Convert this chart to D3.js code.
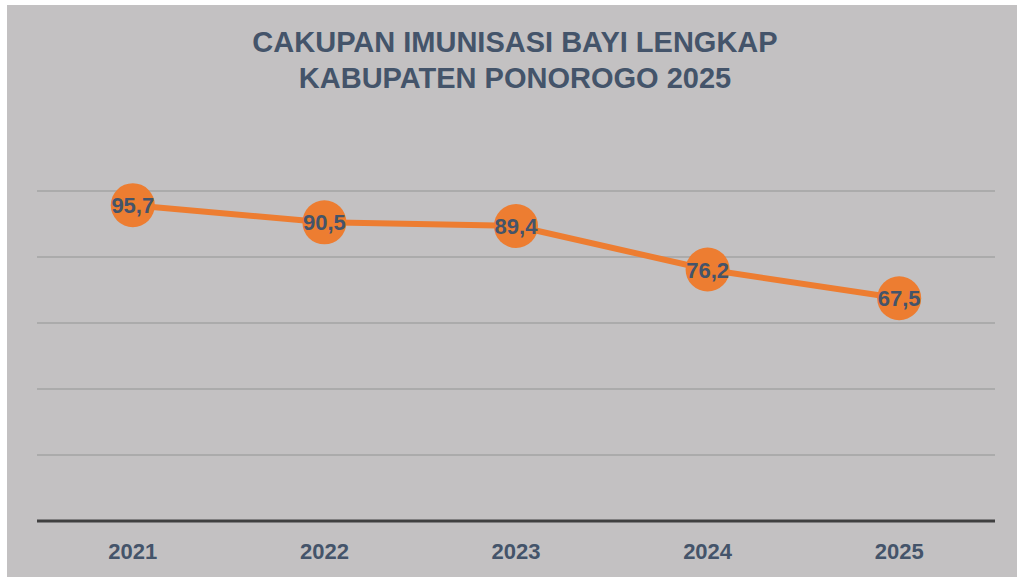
<!DOCTYPE html>
<html>
<head>
<meta charset="utf-8">
<script src="https://cdn.jsdelivr.net/npm/d3@7"></script>
<style>
  html, body { margin: 0; padding: 0; background: #ffffff; }
  svg { display: block; }
</style>
</head>
<body>
<svg id="chart"></svg>
<script>
const years = ['2021', '2022', '2023', '2024', '2025'];
const coverage = [95.7, 90.5, 89.4, 76.2, 67.5];
const coverageLabels = ['95,7', '90,5', '89,4', '76,2', '67,5'];
const gridTicks = [0, 20, 40, 60, 80, 100];
const titleLines = ['CAKUPAN IMUNISASI BAYI LENGKAP', 'KABUPATEN PONOROGO 2025'];

const width = 1017, height = 577;
const margin = { top: 125, right: 22, bottom: 56, left: 37 };
const textColour = '#44546a';
const orange = '#ed7d31';

const svg = d3.select('#chart').attr('width', width).attr('height', height);

// chart area background
svg.append('rect')
    .attr('x', 7).attr('y', 5)
    .attr('width', width - 7).attr('height', height - 5)
    .attr('fill', '#c3c1c2');

const x = d3.scaleBand().domain(years)
    .range([margin.left, width - margin.right]);
const y = d3.scaleLinear().domain([0, 120])
    .range([height - margin.bottom, margin.top]);

// gridlines
svg.append('g').selectAll('line')
    .data(gridTicks.filter(d => d > 0))
    .join('line')
    .attr('x1', margin.left).attr('x2', width - margin.right)
    .attr('y1', d => y(d)).attr('y2', d => y(d))
    .attr('stroke', '#a3a3a3').attr('stroke-width', 1.5);

// baseline
svg.append('line')
    .attr('x1', margin.left).attr('x2', width - margin.right)
    .attr('y1', y(0)).attr('y2', y(0))
    .attr('stroke', '#404040').attr('stroke-width', 3);

// x axis labels
const xAxis = svg.append('g')
    .attr('transform', `translate(0, ${y(0)})`)
    .call(d3.axisBottom(x).tickSize(0).tickPadding(0));
xAxis.select('.domain').remove();
xAxis.selectAll('text')
    .attr('y', 38)
    .attr('dy', 0)
    .attr('fill', textColour)
    .style('font-family', 'Liberation Sans, Arial, sans-serif')
    .style('font-weight', 'bold')
    .style('font-size', '22px');

const cx = (d, i) => x(years[i]) + x.bandwidth() / 2;

// line
const line = d3.line()
    .x((d, i) => cx(d, i))
    .y(d => y(d));
svg.append('path')
    .datum(coverage)
    .attr('d', line)
    .attr('fill', 'none')
    .attr('stroke', orange)
    .attr('stroke-width', 6)
    .attr('stroke-linejoin', 'round');

// markers
svg.append('g').selectAll('circle')
    .data(coverage)
    .join('circle')
    .attr('cx', cx)
    .attr('cy', d => y(d))
    .attr('r', 22)
    .attr('fill', orange);

// value labels
svg.append('g').selectAll('text')
    .data(coverage)
    .join('text')
    .attr('x', cx)
    .attr('y', d => y(d) + 8)
    .attr('text-anchor', 'middle')
    .attr('fill', textColour)
    .style('font-family', 'Liberation Sans, Arial, sans-serif')
    .style('font-weight', 'bold')
    .style('font-size', '22px')
    .text((d, i) => coverageLabels[i]);

// title
svg.append('g').selectAll('text')
    .data(titleLines)
    .join('text')
    .attr('x', 515)
    .attr('y', (d, i) => 52 + i * 36)
    .attr('text-anchor', 'middle')
    .attr('fill', textColour)
    .style('font-family', 'Liberation Sans, Arial, sans-serif')
    .style('font-weight', 'bold')
    .style('font-size', '29px')
    .text(d => d);
</script>
</body>
</html>
